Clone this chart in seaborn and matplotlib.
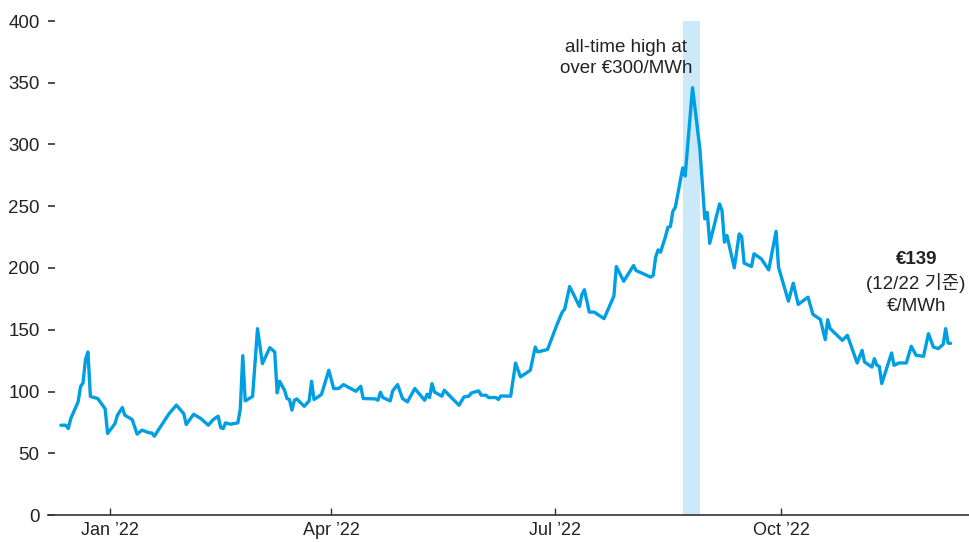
import pandas as pd
import matplotlib
matplotlib.use("Agg")
import matplotlib.pyplot as plt
import seaborn as sns

# Daily gas price, €/MWh
dates = [
    "2021-12-12", "2021-12-14", "2021-12-15", "2021-12-16", "2021-12-19", "2021-12-20", "2021-12-21",
    "2021-12-22", "2021-12-23", "2021-12-24", "2021-12-27", "2021-12-30", "2021-12-31",
    "2022-01-03", "2022-01-04", "2022-01-06", "2022-01-07", "2022-01-10", "2022-01-12", "2022-01-14",
    "2022-01-17", "2022-01-18", "2022-01-19", "2022-01-25", "2022-01-28", "2022-01-31",
    "2022-02-01", "2022-02-04", "2022-02-07", "2022-02-10", "2022-02-12", "2022-02-14", "2022-02-15",
    "2022-02-16", "2022-02-17", "2022-02-19", "2022-02-22", "2022-02-23", "2022-02-24", "2022-02-25",
    "2022-02-28",
    "2022-03-02", "2022-03-04", "2022-03-07", "2022-03-09", "2022-03-10", "2022-03-11", "2022-03-13",
    "2022-03-14", "2022-03-15", "2022-03-16", "2022-03-17", "2022-03-18", "2022-03-21", "2022-03-23",
    "2022-03-24", "2022-03-25", "2022-03-28", "2022-03-31",
    "2022-04-02", "2022-04-04", "2022-04-06", "2022-04-11", "2022-04-13", "2022-04-14", "2022-04-19",
    "2022-04-20", "2022-04-21", "2022-04-22", "2022-04-25", "2022-04-26", "2022-04-28", "2022-04-30",
    "2022-05-02", "2022-05-05", "2022-05-09", "2022-05-10", "2022-05-11", "2022-05-12", "2022-05-13",
    "2022-05-16", "2022-05-17", "2022-05-20", "2022-05-23", "2022-05-25", "2022-05-27", "2022-05-28",
    "2022-05-31",
    "2022-06-01", "2022-06-03", "2022-06-04", "2022-06-07", "2022-06-08", "2022-06-09", "2022-06-13",
    "2022-06-15", "2022-06-17", "2022-06-21", "2022-06-23", "2022-06-24", "2022-06-28",
    "2022-07-02", "2022-07-04", "2022-07-05", "2022-07-07", "2022-07-11", "2022-07-12", "2022-07-13",
    "2022-07-15", "2022-07-17", "2022-07-19", "2022-07-21", "2022-07-25", "2022-07-26", "2022-07-29",
    "2022-08-02", "2022-08-03", "2022-08-09", "2022-08-10", "2022-08-11", "2022-08-12", "2022-08-13",
    "2022-08-15", "2022-08-16", "2022-08-17", "2022-08-18", "2022-08-19", "2022-08-22", "2022-08-23",
    "2022-08-26", "2022-08-29", "2022-08-31",
    "2022-09-01", "2022-09-02", "2022-09-06", "2022-09-07", "2022-09-08", "2022-09-09", "2022-09-12",
    "2022-09-14", "2022-09-15", "2022-09-16", "2022-09-19", "2022-09-20", "2022-09-23", "2022-09-26",
    "2022-09-29", "2022-09-30",
    "2022-10-04", "2022-10-06", "2022-10-08", "2022-10-12", "2022-10-14", "2022-10-17", "2022-10-19",
    "2022-10-20", "2022-10-21", "2022-10-26", "2022-10-28",
    "2022-11-01", "2022-11-03", "2022-11-04", "2022-11-07", "2022-11-08", "2022-11-09", "2022-11-10",
    "2022-11-11", "2022-11-15", "2022-11-16", "2022-11-18", "2022-11-21", "2022-11-23", "2022-11-25",
    "2022-11-28", "2022-11-30",
    "2022-12-02", "2022-12-04", "2022-12-06", "2022-12-07", "2022-12-08", "2022-12-09",
]
prices = [
    72.7, 72.7, 70.0, 78.0, 91.6, 104.0, 107.0, 125.8, 132.0, 96.0, 94.3, 86.0, 66.0,
    74.0, 80.8, 87.0, 80.8, 77.3, 65.5, 68.7, 66.5, 66.5, 63.8, 82.0, 89.0, 82.0,
    73.3, 81.6, 78.0, 72.7, 77.3, 80.0, 70.9, 70.0, 74.6, 73.5, 74.6, 86.0, 129.0, 92.4, 96.0,
    150.9, 122.6, 135.5, 132.0, 98.9, 108.3, 101.0, 94.3, 93.5, 84.9, 92.9, 94.0, 88.0, 92.4,
    108.3, 93.5, 97.5, 117.2,
    102.4, 102.4, 105.6, 100.2, 104.2, 94.3, 94.0, 92.9, 99.4, 95.1, 92.4, 100.5, 105.6, 94.3,
    91.6, 102.4, 92.9, 97.8, 95.1, 106.4, 99.6, 96.2, 101.0, 94.8, 88.9, 95.6, 96.2, 98.8, 100.5,
    97.0, 97.0, 95.1, 95.1, 93.5, 96.4, 96.2, 123.0, 111.8, 117.2, 136.0, 132.0, 134.0,
    154.9, 164.3, 166.7, 185.0, 168.9, 178.6, 182.4, 164.3, 164.3, 161.6, 159.0, 177.2, 201.2, 189.3,
    202.0, 198.0, 192.6, 194.0, 208.7, 214.7, 212.8, 225.5, 233.0, 233.5, 245.9, 249.1, 281.0, 274.5,
    346.0, 296.3, 239.8,
    245.0, 220.0, 251.9, 246.5, 220.9, 226.3, 200.2, 227.6, 225.5, 203.9, 201.2, 211.5, 207.4, 198.5,
    229.7, 200.6,
    173.2, 187.7, 170.5, 176.4, 162.4, 158.4, 142.0, 158.1, 150.9, 141.4, 145.5,
    123.1, 133.3, 123.9, 119.8, 126.6, 121.2, 120.4, 106.4, 131.2, 121.2, 123.1, 123.1, 136.6, 129.3,
    128.5, 146.8,
    136.0, 134.7, 138.2, 150.9, 139.2, 139.0,
]

tick_dates = ["2022-01-01", "2022-04-01", "2022-07-01", "2022-10-01"]
tick_labels = ["Jan \u201922", "Apr \u201922", "Jul \u201922", "Oct \u201922"]
y_ticks = [0, 50, 100, 150, 200, 250, 300, 350, 400]
peak_window = ["2022-08-22", "2022-08-29"]

LINE = "#009FE3"
BAND = "#CCE9F9"
INK = "#222222"

sns.set_style("white")
plt.rcParams["font.family"] = ["Liberation Sans", "Noto Sans CJK KR", "DejaVu Sans"]
plt.rcParams["font.size"] = 13.5

df = pd.DataFrame({"date": pd.to_datetime(dates), "price": prices})

fig = plt.figure(figsize=(9.69, 5.42), dpi=100)
ax = fig.add_axes([48 / 969, 1 - 515 / 542, 1 - 48 / 969, (515 - 21) / 542])

ax.axvspan(pd.Timestamp(peak_window[0]), pd.Timestamp(peak_window[1]),
           color=BAND, lw=0, zorder=0)
sns.lineplot(data=df, x="date", y="price", ax=ax, color=LINE, linewidth=2.4, zorder=3)

ax.set_ylim(0, 400)
ax.set_xlim(pd.Timestamp("2021-12-06 18:00"), pd.Timestamp("2022-12-16 12:00"))
ax.set_yticks(y_ticks)
ax.set_yticklabels([str(v) for v in y_ticks])
ax.set_xticks(pd.to_datetime(tick_dates))
ax.set_xticklabels(tick_labels)
ax.set_xlabel("")
ax.set_ylabel("")

for side in ["top", "right", "left"]:
    ax.spines[side].set_visible(False)
ax.spines["bottom"].set_color("#333333")
ax.spines["bottom"].set_linewidth(1.2)

ax.tick_params(axis="y", left=True, direction="in", length=5, width=1.2, color="#333333",
               pad=6, labelcolor=INK, labelsize=13.5)
ax.tick_params(axis="x", bottom=True, direction="in", length=5, width=1.0, color="#333333",
               pad=5, labelcolor=INK, labelsize=13)

ax.text(pd.Timestamp("2022-07-30"), 370, "all-time high at\nover \u20ac300/MWh",
        ha="center", va="center", color=INK, fontsize=13.5, linespacing=1.25)

label_x = pd.Timestamp("2022-11-25")
ax.text(label_x, 207, f"\u20ac{prices[-1]:.0f}", ha="center", va="center",
        color=INK, fontsize=13.5, fontweight="bold")
ax.text(label_x, 188, "(12/22 기준)", ha="center", va="center", color=INK, fontsize=13.5)
ax.text(label_x, 169, "\u20ac/MWh", ha="center", va="center", color=INK, fontsize=13.5)

fig.savefig("out.png", dpi=100)
